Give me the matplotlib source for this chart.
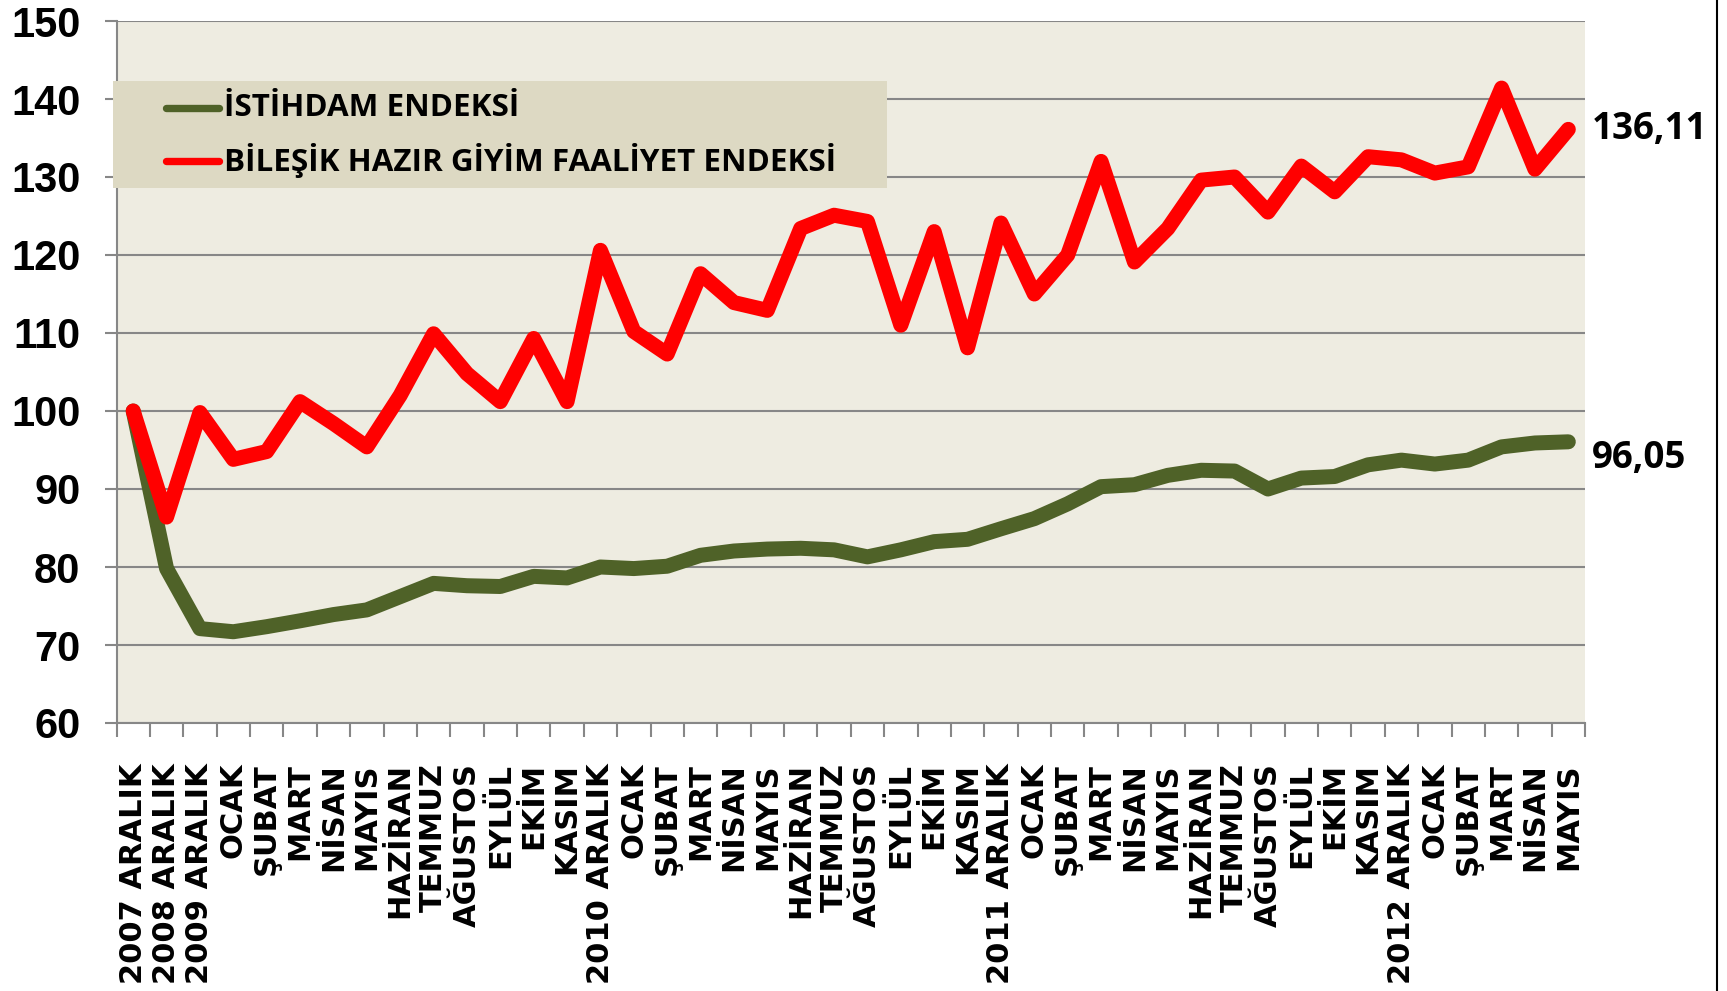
import matplotlib
matplotlib.use("Agg")
import matplotlib.pyplot as plt
from matplotlib.patches import Rectangle
from matplotlib.lines import Line2D

categories = ["2007 ARALIK", "2008 ARALIK", "2009 ARALIK",
              "OCAK", "ŞUBAT", "MART", "NİSAN", "MAYIS", "HAZİRAN", "TEMMUZ",
              "AĞUSTOS", "EYLÜL", "EKİM", "KASIM", "2010 ARALIK",
              "OCAK", "ŞUBAT", "MART", "NİSAN", "MAYIS", "HAZİRAN", "TEMMUZ",
              "AĞUSTOS", "EYLÜL", "EKİM", "KASIM", "2011 ARALIK",
              "OCAK", "ŞUBAT", "MART", "NİSAN", "MAYIS", "HAZİRAN", "TEMMUZ",
              "AĞUSTOS", "EYLÜL", "EKİM", "KASIM", "2012 ARALIK",
              "OCAK", "ŞUBAT", "MART", "NİSAN", "MAYIS"]

istihdam = [100.0, 79.8, 72.1, 71.7, 72.35, 73.1, 73.9, 74.5, 76.2, 77.9,
            77.6, 77.5, 78.8, 78.6, 80.0, 79.8, 80.1, 81.5, 82.05, 82.3,
            82.4, 82.2, 81.3, 82.2, 83.25, 83.55, 84.9, 86.2, 88.1, 90.3,
            90.55, 91.75, 92.4, 92.3, 90.0, 91.4, 91.6, 93.1, 93.7, 93.2,
            93.7, 95.4, 95.9, 96.05]

bilesik = [100.0, 86.4, 99.8, 93.8, 94.8, 101.2, 98.4, 95.4, 102.0, 109.9,
           104.8, 101.2, 109.3, 101.2, 120.6, 110.2, 107.3, 117.6, 113.9, 112.9,
           123.4, 125.1, 124.3, 111.0, 123.0, 108.1, 124.1, 115.0, 120.0, 132.0,
           119.1, 123.4, 129.6, 130.0, 125.5, 131.4, 128.1, 132.6, 132.2, 130.5,
           131.3, 141.4, 131.0, 136.11]

series_names = ["İSTİHDAM ENDEKSİ", "BİLEŞİK HAZIR GİYİM FAALİYET ENDEKSİ"]
end_labels = ["96,05", "136,11"]
yticks = [60, 70, 80, 90, 100, 110, 120, 130, 140, 150]

GREEN = "#4F6228"
RED = "#FF0000"
GRID = "#878787"
BG = "#EEECE1"
LEG_BG = "#DDD9C3"

W, H = 1727, 991
fig = plt.figure(figsize=(W / 100, H / 100), dpi=100)
fig.patch.set_facecolor("white")


def fx(px):
    return px / W


def fy(py):
    return 1 - py / H


left, right, top, bottom = 116.5, 1585, 21, 723
ax = fig.add_axes([fx(left), fy(bottom), fx(right - left), (bottom - top) / H])
ax.set_facecolor(BG)

x = list(range(len(categories)))
ax.plot(x, istihdam, color=GREEN, lw=10.8, solid_joinstyle="round",
        solid_capstyle="round", zorder=3)
ax.plot(x, bilesik, color=RED, lw=10.8, solid_joinstyle="round",
        solid_capstyle="round", zorder=4)

ax.set_xlim(-0.5, len(categories) - 0.5)
ax.set_ylim(60, 150)
ax.set_yticks(yticks)
ax.set_yticklabels([str(v) for v in yticks], fontfamily="Liberation Sans",
                   fontweight="bold", fontsize=30)
ax.set_xticks(x)
ax.set_xticklabels(categories, rotation=90, fontfamily="DejaVu Sans",
                   fontweight="bold", fontsize=22, va="top", ha="center")
ax.set_xticks([i - 0.5 for i in range(len(categories) + 1)], minor=True)
ax.tick_params(axis="x", which="major", length=0, pad=28.8)
ax.tick_params(axis="x", which="minor", length=10, width=1.5, color=GRID)
ax.tick_params(axis="y", which="major", length=8.6, width=1.5, color=GRID, pad=17.5)

ax.grid(axis="y", color=GRID, lw=1.5, zorder=1)
ax.set_axisbelow(True)
for s in ["top", "right"]:
    ax.spines[s].set_visible(False)
for s in ["left", "bottom"]:
    ax.spines[s].set_color(GRID)
    ax.spines[s].set_linewidth(1.5)

# end-value labels
ax.annotate(end_labels[1], xy=(x[-1], bilesik[-1]), xytext=(17, 0),
            textcoords="offset points", va="center", ha="left",
            fontfamily="Open Sans", fontweight="bold", fontsize=26.5, zorder=5,
            annotation_clip=False)
ax.annotate(end_labels[0], xy=(x[-1], istihdam[-1]), xytext=(17, -12),
            textcoords="offset points", va="center", ha="left",
            fontfamily="Open Sans", fontweight="bold", fontsize=26.5, zorder=5,
            annotation_clip=False)

# legend box
lx0, ly0, lx1, ly1 = 113, 81, 887, 188
fig.add_artist(Rectangle((fx(lx0), fy(ly1)), fx(lx1 - lx0), (ly1 - ly0) / H,
                         transform=fig.transFigure, facecolor=LEG_BG,
                         edgecolor="none", zorder=10))
for name, col, yy in [(series_names[0], GREEN, 108), (series_names[1], RED, 161)]:
    fig.add_artist(Line2D([fx(166), fx(219)], [fy(yy), fy(yy)],
                          transform=fig.transFigure, color=col, lw=5.3,
                          solid_capstyle="round", zorder=11))
    fig.text(fx(224), fy(yy), name, va="center", ha="left",
             fontfamily="Open Sans", fontweight="bold", fontsize=22.6, zorder=12)

# right border line
fig.add_artist(Line2D([fx(1717), fx(1717)], [0, 1], transform=fig.transFigure,
                      color="black", lw=1.5))

fig.savefig("out.png", dpi=100, facecolor="white")
